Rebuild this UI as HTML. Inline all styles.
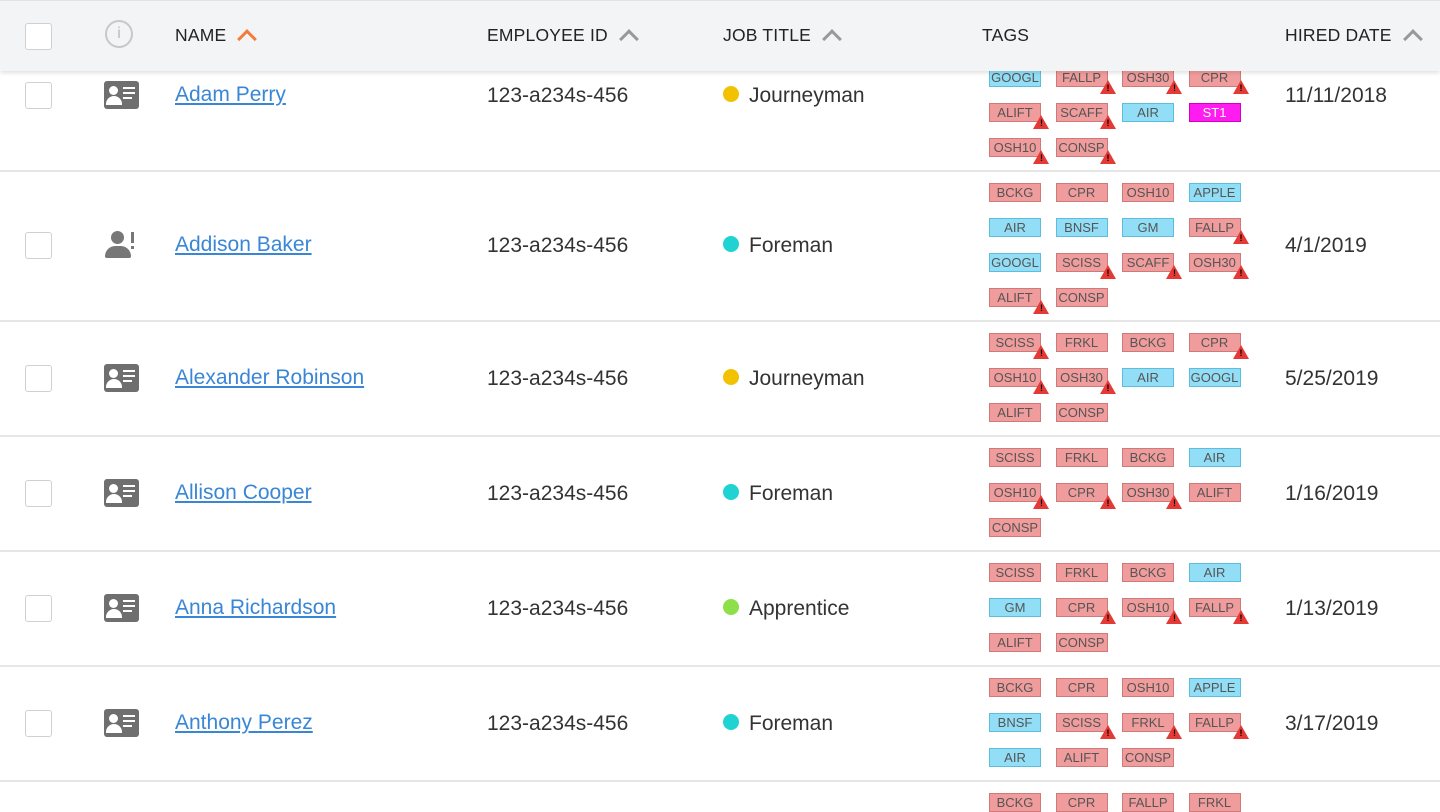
<!DOCTYPE html>
<html><head><meta charset="utf-8">
<style>
body{margin:0;width:1440px;height:810px;overflow:hidden;background:#fff;font-family:"Liberation Sans",sans-serif;position:relative}
.abs{position:absolute}
#hdr{position:absolute;left:0;top:0;width:1440px;height:71px;background:#f3f4f5;border-top:1px solid #e2e2e2;box-sizing:border-box;box-shadow:0 2px 4px rgba(0,0,0,.12);z-index:5}
.h{position:absolute;top:24px;font-size:17.5px;color:#222;letter-spacing:.2px}
.chev{display:inline-block;width:11px;height:11px;border-left:3px solid #999;border-top:3px solid #999;transform:rotate(45deg);margin-left:14px;position:relative;top:5px}
.cb{position:absolute;left:25px;width:27px;height:27px;border:1.5px solid #d0d0d0;border-radius:3px;background:#fff;box-sizing:border-box}
.name{position:absolute;left:175px;font-size:21px;color:#3a86d6;text-decoration:underline}
.txt{position:absolute;font-size:21px;color:#333}
.dot{position:absolute;left:723px;width:16px;height:16px;border-radius:50%}
.tag{position:absolute;width:52px;height:19px;box-sizing:border-box;font-size:13px;line-height:17px;text-align:center;color:#555}
.r{background:#f09c9c;border:1px solid #cf7a7a}
.b{background:#92def6;border:1px solid #5cbddc}
.m{background:#ff1cf0;border:1px solid #d000c8;color:#fff}
.warn{position:absolute;width:0;height:0;border-left:8px solid transparent;border-right:8px solid transparent;border-bottom:14px solid #e53935}
.warn span{position:absolute;left:-1px;top:3px;font-size:9px;font-weight:bold;color:#000}
.line{position:absolute;left:0;width:1440px;height:2px;background:#e6e6e6}
</style></head><body>
<div id="hdr">
  <div class="cb" style="top:22px"></div>
  <div class="abs" style="left:105px;top:19px;width:28px;height:28px;border:2px solid #c8c8c8;border-radius:50%;box-sizing:border-box;color:#bbb;font-size:16px;text-align:center;line-height:24px">i</div>
  <div class="h" style="left:175px">NAME<span class="chev" style="border-color:#f47b3b"></span></div>
  <div class="h" style="left:487px">EMPLOYEE ID<span class="chev"></span></div>
  <div class="h" style="left:723px">JOB TITLE<span class="chev"></span></div>
  <div class="h" style="left:982px">TAGS</div>
  <div class="h" style="left:1285px">HIRED DATE<span class="chev"></span></div>
</div>
<div id="rows"></div>
<script>
const names=["Adam Perry","Addison Baker","Alexander Robinson","Allison Cooper","Anna Richardson","Anthony Perez",""];
const jobs=["Journeyman","Foreman","Journeyman","Foreman","Apprentice","Foreman",""];
const dates=["11/11/2018","4/1/2019","5/25/2019","1/16/2019","1/13/2019","3/17/2019",""];
const centers=[95,245,378,493,608,723,838];
const tagTops=[77,192,342,457,572,687,802];
const dividers=[170,320,435,550,665,780];
const tags=[
["GOOGL:b","FALLP:rw","OSH30:rw","CPR:rw","ALIFT:rw","SCAFF:rw","AIR:b","ST1:m","OSH10:rw","CONSP:rw"],
["BCKG:r","CPR:r","OSH10:r","APPLE:b","AIR:b","BNSF:b","GM:b","FALLP:rw","GOOGL:b","SCISS:rw","SCAFF:rw","OSH30:rw","ALIFT:rw","CONSP:r"],
["SCISS:rw","FRKL:r","BCKG:r","CPR:rw","OSH10:rw","OSH30:rw","AIR:b","GOOGL:b","ALIFT:r","CONSP:r"],
["SCISS:r","FRKL:r","BCKG:r","AIR:b","OSH10:rw","CPR:rw","OSH30:rw","ALIFT:r","CONSP:r"],
["SCISS:r","FRKL:r","BCKG:r","AIR:b","GM:b","CPR:rw","OSH10:rw","FALLP:rw","ALIFT:r","CONSP:r"],
["BCKG:r","CPR:r","OSH10:r","APPLE:b","BNSF:b","SCISS:rw","FRKL:rw","FALLP:rw","AIR:b","ALIFT:r","CONSP:r"],
["BCKG:r","CPR:r","FALLP:r","FRKL:r"]];
const jobColor={Journeyman:"#f2c200",Foreman:"#1fd3d3",Apprentice:"#8ee04a"};
const R=document.getElementById('rows');
function mk(cls,style,name,inter,txt){const e=document.createElement('div');e.className=cls;e.style.cssText=style;


if(txt)e.textContent=txt;R.appendChild(e);return e;}
dividers.forEach(y=>mk('line','top:'+y+'px','row-divider','false'));
names.forEach((n,i)=>{
 const c=centers[i];
 if(n){
 mk('cb','top:'+(c-13)+'px','row-checkbox','true');
 if(i===1){
  const ic=mk('abs','left:104px;top:'+(c-14)+'px;width:34px;height:28px','user-alert-icon','false');
  ic.innerHTML='<div style="position:absolute;left:7px;top:0;width:13px;height:13px;border-radius:50%;background:#777"></div><div style="position:absolute;left:1px;top:15px;width:26px;height:12px;border-radius:12px 12px 2px 2px;background:#777"></div><div style="position:absolute;left:27px;top:1px;width:3px;height:11px;background:#777"></div><div style="position:absolute;left:27px;top:15px;width:3px;height:3px;background:#777"></div>';
 } else {
  const ic=mk('abs','left:104px;top:'+(c-14)+'px;width:35px;height:28px;background:#6f6f6f;border-radius:3px','id-card-icon','false');
  ic.innerHTML='<div style="position:absolute;left:5px;top:5px;width:9px;height:9px;border-radius:50%;background:#fff"></div><div style="position:absolute;left:2px;top:15px;width:16px;height:9px;border-radius:8px 8px 0 0;background:#fff"></div><div style="position:absolute;left:19px;top:6px;width:12px;height:2px;background:#fff"></div><div style="position:absolute;left:19px;top:11px;width:12px;height:2px;background:#fff"></div><div style="position:absolute;left:19px;top:16px;width:9px;height:2px;background:#fff"></div>';
 }
 mk('name','top:'+(c-12)+'px','employee-name-link','true',n);
 mk('txt','left:487px;top:'+(c-11)+'px','employee-id','false','123-a234s-456');
 mk('dot','top:'+(c-9)+'px;background:'+jobColor[jobs[i]],'job-status-dot','false');
 mk('txt','left:749px;top:'+(c-11)+'px','job-title','false',jobs[i]);
 mk('txt','left:1285px;top:'+(c-11)+'px','hired-date','false',dates[i]);
 }
 tags[i].forEach((t,k)=>{
  const [lbl,tp]=t.split(':');
  const x=989+(k%4)*66.5, y=tagTops[i]-9+Math.floor(k/4)*35;
  mk('tag '+tp[0],'left:'+x+'px;top:'+y+'px','tag-'+lbl.toLowerCase(),'false',lbl);
  if(tp.indexOf('w')>0){const w=mk('warn','left:'+(x+44)+'px;top:'+(y+12)+'px','warning-icon','false');w.innerHTML='<span>!</span>';}
 });
});
</script>
</body></html>
